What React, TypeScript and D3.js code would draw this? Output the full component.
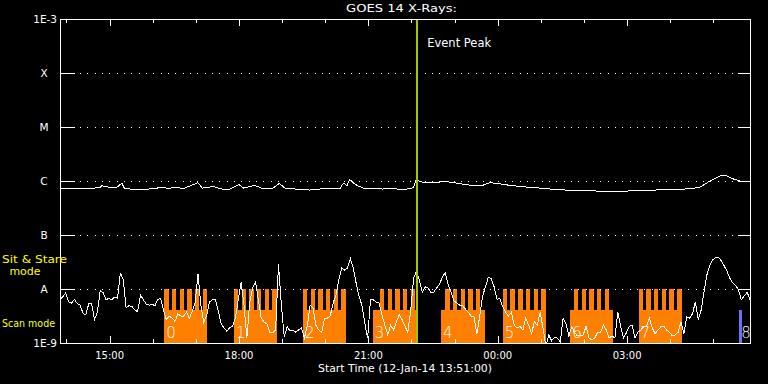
import React from "react";
import * as d3 from "d3";

const W = 768;
const H = 384;
const plot = { left: 60, right: 750, top: 19, bottom: 343 };

// time axis: 16 hours from the start time
const startTime = new Date(Date.UTC(2014, 0, 12, 13, 51, 0));
const endTime = new Date(startTime.getTime() + 16 * 3600 * 1000);

// decade levels on the flux axis
const levelValues = [1e-3, 1e-4, 1e-5, 1e-6, 1e-7, 1e-8, 1e-9];
const levelLabels = ["1E-3", "X", "M", "C", "B", "A", "1E-9"];

// 1-8 A channel (minutes from start, W/m^2)
const longMinutes = [
  0, 46, 56, 58, 67, 79, 86, 90, 114, 128, 142, 150, 164, 170, 192, 198, 213, 225, 234, 249,
  255, 271, 281, 295, 305, 313, 338, 348, 369, 390, 392, 395, 399, 403, 408, 413, 422, 449, 466, 473,
  487, 492, 496, 501, 508, 515, 524, 533, 538, 550, 570, 588, 598, 608, 626, 650, 668, 682, 710, 751,
  786, 821, 835, 856, 876, 890, 902, 911, 921, 928, 936, 946, 953, 960,
];
const longFlux = [
  7.4e-7, 7.3e-7, 7.7e-7, 8.2e-7, 7.7e-7, 7.6e-7, 9.1e-7, 7.2e-7, 6.9e-7, 7.2e-7,
  7.6e-7, 7.3e-7, 7.7e-7, 7.1e-7, 9.3e-7, 7.4e-7, 7.9e-7, 7.1e-7, 6.9e-7, 8.6e-7,
  7.4e-7, 8.3e-7, 7.3e-7, 7.1e-7, 9.0e-7, 7.4e-7, 6.9e-7, 6.8e-7, 7.3e-7, 7.3e-7,
  8.4e-7, 9.2e-7, 8.1e-7, 1.07e-6, 9.3e-7, 8.3e-7, 7.4e-7, 7.1e-7, 7.3e-7, 6.9e-7,
  7.2e-7, 7.7e-7, 1.1e-6, 9.7e-7, 9.4e-7, 9.2e-7, 9.2e-7, 1.0e-6, 9.7e-7, 9.2e-7,
  8.4e-7, 8.3e-7, 9.3e-7, 9.0e-7, 8.3e-7, 7.7e-7, 7.4e-7, 7.1e-7, 6.7e-7, 6.5e-7,
  6.5e-7, 6.7e-7, 6.9e-7, 6.9e-7, 7.2e-7, 7.6e-7, 9.6e-7, 1.1e-6, 1.29e-6, 1.24e-6,
  1.1e-6, 1.0e-6, 9.6e-7, 9.6e-7,
];

// 0.5-4 A channel, log10 flux every 4 minutes from start
const shortCadence = 4;
const shortLog = [
  -8.20, -8.14, -8.07, -8.24, -8.26, -8.19, -8.27, -8.30, -8.45, -8.48,
  -8.27, -8.27, -8.57, -8.43, -8.02, -8.07, -8.20, -8.17, -8.20, -8.15,
  -8.17, -7.70, -7.83, -8.35, -8.31, -8.32, -8.39, -8.42, -8.11, -8.20,
  -8.28, -8.30, -8.28, -8.31, -8.20, -8.17, -8.39, -8.57, -8.50, -8.54,
  -8.60, -8.46, -8.50, -8.50, -8.43, -8.54, -8.41, -8.26, -7.72, -8.30,
  -8.61, -8.50, -8.24, -8.20, -8.19, -8.39, -8.63, -8.72, -8.78, -8.72,
  -8.69, -8.54, -8.20, -7.87, -8.30, -8.91, -8.24, -7.98, -7.87, -8.20,
  -8.54, -8.61, -8.65, -8.81, -8.81, -8.76, -7.54, -8.30, -8.89, -8.70,
  -8.78, -8.76, -8.80, -8.76, -8.72, -8.91, -8.69, -8.30, -8.35, -8.67,
  -8.76, -8.81, -8.54, -8.54, -8.50, -8.26, -8.11, -7.83, -7.61, -7.65,
  -7.61, -7.44, -7.61, -7.89, -8.13, -8.30, -8.63, -8.91, -8.20, -8.20,
  -8.24, -8.26, -8.48, -8.67, -8.85, -8.67, -8.76, -8.61, -8.48, -8.57,
  -8.69, -8.80, -8.39, -7.80, -7.67, -7.83, -8.06, -7.96, -7.98, -8.06,
  -8.06, -7.98, -7.91, -7.78, -7.70, -7.91, -8.06, -8.22, -8.26, -8.30,
  -8.31, -8.37, -8.43, -8.50, -8.52, -8.83, -8.50, -8.13, -7.96, -7.78,
  -7.81, -7.96, -8.19, -8.17, -8.33, -8.43, -8.50, -8.43, -8.67, -8.72,
  -8.69, -8.76, -8.54, -8.67, -8.83, -8.61, -8.67, -8.43, -8.72, -9.06,
  -8.85, -8.96, -8.89, -8.91, -8.98, -8.54, -8.65, -8.87, -8.70, -8.81,
  -8.87, -8.87, -8.85, -8.69, -8.91, -8.94, -8.91, -8.80, -8.81, -8.67,
  -8.76, -8.91, -8.87, -8.91, -8.43, -8.69, -8.91, -8.81, -8.69, -8.67,
  -8.91, -8.80, -8.76, -8.70, -8.69, -8.54, -8.72, -8.83, -8.76, -8.70,
  -8.69, -8.76, -8.80, -8.87, -8.85, -8.80, -8.61, -8.83, -8.52, -8.54,
  -8.46, -8.24, -8.57, -8.39, -8.06, -7.74, -7.57, -7.46, -7.42, -7.41,
  -7.48, -7.57, -7.67, -7.80, -7.89, -7.93, -8.02, -8.20, -8.13, -8.06,
  -8.20,
];

// scan mode intervals (minutes from start)
const scanStart = [145, 242, 338, 435, 530, 616, 710, 805];
const scanEnd = [204, 302, 398, 495, 591, 676, 769, 866];
const toothStart = [145, 242, 338, 445, 536, 616, 715, 805];
const toothCount = [6, 6, 6, 5, 5, 6, 5, 6];
const toothPeriod = 10.7;
const toothWidth = 6.2;
const otherStart = [945];
const otherEnd = [949];
const otherLabel = ["8"];

const sitStareLevel = 1e-8;
const scanLevel = 4.1e-9;
const eventPeakMinute = 497;

const atMinute = (m: number) => new Date(startTime.getTime() + m * 60000);

export default function App() {
  const x = d3.scaleUtc().domain([startTime, endTime]).range([plot.left, plot.right]);
  const y = d3.scaleLog().domain([1e-9, 1e-3]).range([plot.bottom, plot.top]);
  const xm = (m: number) => x(atMinute(m));

  const longLine = d3
    .line<number>()
    .x((_, i) => xm(longMinutes[i]))
    .y((d) => y(d));
  const shortLine = d3
    .line<number>()
    .x((_, i) => xm(i * shortCadence))
    .y((d) => y(Math.pow(10, d)));

  const hours = d3.utcHour.range(startTime, endTime);
  const majorHours = d3.utcHour.every(3)!.range(startTime, endTime);
  const fmt = d3.utcFormat("%H:%M");

  const yTooth = y(sitStareLevel);
  const yBase = y(scanLevel);

  return (
    <svg
      width={W}
      height={H}
      style={{ position: "absolute", left: 0, top: 0 }}
      fontFamily="DejaVu Sans"
    >
      <defs>
        <clipPath id="plotClip">
          <rect x={plot.left} y={plot.top} width={plot.right - plot.left} height={plot.bottom - plot.top} />
        </clipPath>
      </defs>
      <rect width={W} height={H} fill="#000" />

      {/* scan mode blocks */}
      <g fill="#ff8000" shapeRendering="crispEdges">
        {scanStart.map((s, i) => (
          <g key={i}>
            <rect x={xm(s)} y={yBase} width={xm(scanEnd[i]) - xm(s)} height={plot.bottom - yBase} />
            {d3.range(toothCount[i]).map((j) => {
              const t = toothStart[i] + j * toothPeriod;
              return (
                <rect key={j} x={xm(t)} y={yTooth} width={xm(t + toothWidth) - xm(t)} height={yBase - yTooth + 1} />
              );
            })}
          </g>
        ))}
      </g>
      {otherStart.map((s, i) => (
        <rect
          key={i}
          x={xm(s)}
          y={yBase}
          width={xm(otherEnd[i]) - xm(s)}
          height={plot.bottom - yBase}
          fill="#7070f0"
          shapeRendering="crispEdges"
        />
      ))}
      <g fill="#fff" fontSize={15} fontWeight={200}>
        {scanStart.map((s, i) => (
          <text key={i} x={xm(s) + 2} y={338}>
            {i}
          </text>
        ))}
        {otherStart.map((s, i) => (
          <text key={i} x={xm(s) + 2} y={338}>
            {otherLabel[i]}
          </text>
        ))}
      </g>

      {/* grid and level ticks */}
      <g stroke="#fff" shapeRendering="crispEdges">
        {levelValues.slice(1, -1).map((v, i) => (
          <g key={i}>
            <line x1={plot.left} x2={plot.left + 15} y1={y(v) + 0.5} y2={y(v) + 0.5} />
            <line x1={plot.right - 12} x2={plot.right} y1={y(v) + 0.5} y2={y(v) + 0.5} />
            <line
              x1={plot.left + 20}
              x2={plot.right - 12}
              y1={y(v) + 0.5}
              y2={y(v) + 0.5}
              strokeDasharray="1 6.33"
            />
          </g>
        ))}
        {hours.map((h, i) => {
          const major = h.getUTCHours() % 3 === 0;
          const len = major ? 7 : 4;
          const xx = Math.round(x(h)) + 0.5;
          return (
            <g key={i}>
              <line x1={xx} x2={xx} y1={plot.top} y2={plot.top + len} />
              <line x1={xx} x2={xx} y1={plot.bottom} y2={plot.bottom - len} />
            </g>
          );
        })}
      </g>

      {/* flux curves */}
      <g clipPath="url(#plotClip)" fill="none" stroke="#fff" strokeWidth={1} shapeRendering="crispEdges">
        <path d={longLine(longFlux) ?? ""} />
        <path d={shortLine(shortLog) ?? ""} />
      </g>

      {/* event peak */}
      <line
        x1={xm(eventPeakMinute)}
        x2={xm(eventPeakMinute)}
        y1={plot.top}
        y2={plot.bottom}
        stroke="#a0c800"
        strokeWidth={2}
        shapeRendering="crispEdges"
      />
      <text x={xm(eventPeakMinute) + 10} y={47} fill="#fff" fontSize={11.5}>
        Event Peak
      </text>

      {/* frame */}
      <rect
        x={plot.left + 0.5}
        y={plot.top + 0.5}
        width={plot.right - plot.left}
        height={plot.bottom - plot.top}
        fill="none"
        stroke="#fff"
        shapeRendering="crispEdges"
      />

      {/* level labels */}
      <g fill="#fff" fontSize={10.5}>
        {levelValues.map((v, i) =>
          i === 0 || i === levelValues.length - 1 ? (
            <text key={i} x={57} y={y(v) + 4} textAnchor="end">
              {levelLabels[i]}
            </text>
          ) : (
            <text key={i} x={44} y={y(v) + 4} textAnchor="middle">
              {levelLabels[i]}
            </text>
          )
        )}
      </g>

      {/* time labels */}
      <g fill="#fff" fontSize={10} textAnchor="middle">
        {majorHours.map((h, i) => (
          <text key={i} x={x(h)} y={359}>
            {fmt(h)}
          </text>
        ))}
      </g>
      <text x={318} y={372} fill="#fff" fontSize={11} textLength={174} lengthAdjust="spacingAndGlyphs">
        Start Time (12-Jan-14 13:51:00)
      </text>
      <text x={346} y={12} fill="#fff" fontSize={11} textLength={111} lengthAdjust="spacingAndGlyphs">
        GOES 14 X-Rays:
      </text>

      {/* mode labels */}
      <g fill="#ffff00" fontSize={11}>
        <text x={2} y={263} textLength={65} lengthAdjust="spacingAndGlyphs">
          Sit &amp; Stare
        </text>
        <text x={25} y={275} textAnchor="middle">
          mode
        </text>
        <text x={2} y={327} textLength={53} lengthAdjust="spacingAndGlyphs">
          Scan mode
        </text>
      </g>
    </svg>
  );
}
